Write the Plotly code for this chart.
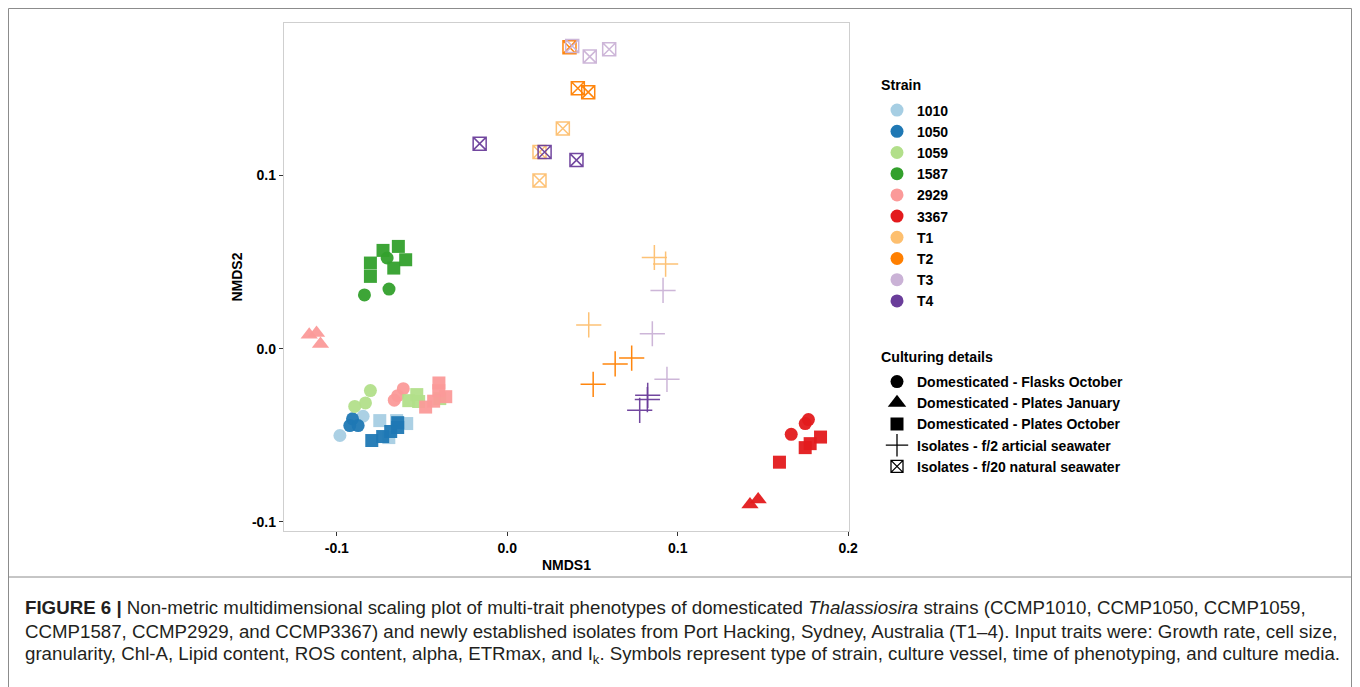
import plotly.graph_objects as go

# ---------------- data ----------------
strains = ["1010", "1050", "1059", "1587", "2929", "3367", "T1", "T2", "T3", "T4"]
strain_colors = ["#A6CEE3", "#1F78B4", "#B2DF8A", "#33A02C", "#FB9A99",
                 "#E31A1C", "#FDBF6F", "#FF7F00", "#CAB2D6", "#6A3D9A"]

cultures = ["Domesticated - Flasks October",
            "Domesticated - Plates January",
            "Domesticated - Plates October",
            "Isolates - f/2 articial seawater",
            "Isolates - f/20 natural seawater"]
culture_symbols = ["circle", "triangle-up", "square", "cross-thin-open", "square-x-open"]

# one entry per sample: strain, culture index, NMDS1, NMDS2
pt_strain = (["1010"] * 6 + ["1050"] * 8 + ["1059"] * 7 + ["1587"] * 9 +
             ["2929"] * 11 + ["3367"] * 9 + ["T1"] * 6 + ["T2"] * 6 +
             ["T3"] * 6 + ["T4"] * 6)
pt_culture = ([0, 0, 2, 2, 2, 2] +
              [0, 0, 0, 2, 2, 2, 2, 2] +
              [0, 0, 0, 2, 2, 2, 2] +
              [0, 0, 0, 2, 2, 2, 2, 2, 2] +
              [0, 0, 0, 1, 1, 1, 2, 2, 2, 2, 2] +
              [0, 0, 0, 1, 1, 2, 2, 2, 2] +
              [3, 3, 3, 4, 4, 4] +
              [3, 3, 3, 4, 4, 4] +
              [3, 3, 3, 4, 4, 4] +
              [3, 3, 3, 4, 4, 4])
nmds1 = ([-0.0982, -0.0846, -0.0748, -0.0649, -0.0590, -0.0695] +
         [-0.0908, -0.0924, -0.0875, -0.0795, -0.0731, -0.0684, -0.0643, -0.0643] +
         [-0.0803, -0.0832, -0.0895, -0.0578, -0.0531, -0.0520, -0.0396] +
         [-0.0705, -0.0838, -0.0694, -0.0803, -0.0803, -0.0729, -0.0639, -0.0666, -0.0596] +
         [-0.0610, -0.0643, -0.0663, -0.1162, -0.1119, -0.1096, -0.0401, -0.0402, -0.0361, -0.0432, -0.0479] +
         [0.1767, 0.1748, 0.1666, 0.1472, 0.1424, 0.1838, 0.1777, 0.1748, 0.1597] +
         [0.0863, 0.0929, 0.0478, 0.0326, 0.0189, 0.0189] +
         [0.0730, 0.0633, 0.0504, 0.0365, 0.0414, 0.0475] +
         [0.0914, 0.0851, 0.0937, 0.0381, 0.0484, 0.0598] +
         [0.0824, 0.0822, 0.0777, -0.0162, 0.0219, 0.0406])
nmds2 = ([-0.0501, -0.0390, -0.0415, -0.0415, -0.0432, -0.0513] +
         [-0.0405, -0.0444, -0.0444, -0.0530, -0.0507, -0.0478, -0.0455, -0.0427] +
         [-0.0242, -0.0313, -0.0333, -0.0300, -0.0265, -0.0305, -0.0288] +
         [0.0523, 0.0310, 0.0344, 0.0494, 0.0417, 0.0567, 0.0590, 0.0465, 0.0513] +
         [-0.0231, -0.0271, -0.0297, 0.0081, 0.0090, 0.0027, -0.0198, -0.0242, -0.0277, -0.0303, -0.0337] +
         [-0.0409, -0.0432, -0.0494, -0.0870, -0.0899, -0.0510, -0.0548, -0.0571, -0.0655] +
         [0.0526, 0.0488, 0.0137, 0.1270, 0.1135, 0.0970] +
         [-0.0054, -0.0088, -0.0206, 0.1739, 0.1503, 0.1480] +
         [0.0336, 0.0086, -0.0177, 0.1746, 0.1685, 0.1727] +
         [-0.0269, -0.0294, -0.0356, 0.1183, 0.1135, 0.1088])

x_ticks = [-0.1, 0.0, 0.1, 0.2]
x_tick_labels = ["-0.1", "0.0", "0.1", "0.2"]
y_ticks = [-0.1, 0.0, 0.1]
y_tick_labels = ["-0.1", "0.0", "0.1"]

legend_titles = ["Strain", "Culturing details"]

caption_lines = [
    "<b>FIGURE 6 |</b> Non-metric multidimensional scaling plot of multi-trait phenotypes of domesticated "
    "<i>Thalassiosira</i> strains (CCMP1010, CCMP1050, CCMP1059,",
    "CCMP1587, CCMP2929, and CCMP3367) and newly established isolates from Port Hacking, Sydney, "
    "Australia (T1–4). Input traits were: Growth rate, cell size,",
    "granularity, Chl-A, Lipid content, ROS content, alpha, ETRmax, and I<sub>k</sub>. Symbols represent "
    "type of strain, culture vessel, time of phenotyping, and culture media.",
]

# ---------------- figure ----------------
FONT = "Liberation Sans, Arial, sans-serif"
fig = go.Figure()

size_map = {"circle": 13, "triangle-up": 15, "square": 13,
            "cross-thin-open": 18, "square-x-open": 13}

for ci, cult in enumerate(cultures):
    sym = culture_symbols[ci]
    for si, st in enumerate(strains):
        xs = [nmds1[i] for i in range(len(nmds1)) if pt_strain[i] == st and pt_culture[i] == ci]
        ys = [nmds2[i] for i in range(len(nmds2)) if pt_strain[i] == st and pt_culture[i] == ci]
        if not xs:
            continue
        col = strain_colors[si]
        open_sym = sym.endswith("open")
        fig.add_trace(go.Scatter(
            x=xs, y=ys, mode="markers", showlegend=False, hoverinfo="skip",
            marker=dict(symbol=sym, size=size_map[sym], color=col,
                        opacity=0.95,
                        line=dict(color=col, width=1.5 if open_sym else 0)),
        ))

# legend 1: Strain (colours)
for si, st in enumerate(strains):
    fig.add_trace(go.Scatter(
        x=[None], y=[None], mode="markers", name=st, legend="legend",
        marker=dict(symbol="circle", size=13, color=strain_colors[si]),
    ))
# legend 2: Culturing details (shapes)
leg_sizes = {"circle": 13, "triangle-up": 16, "square": 13, "cross-thin-open": 19, "square-x-open": 12}
for ci, cult in enumerate(cultures):
    sym = culture_symbols[ci]
    fig.add_trace(go.Scatter(
        x=[None], y=[None], mode="markers", name=cult, legend="legend2",
        marker=dict(symbol=sym, size=leg_sizes[sym],
                    color="black", line=dict(color="black", width=1.3 if sym.endswith("open") else 0)),
    ))

# page offset (browser body margin) compensation
OFF = 8
W, H = 1360 - OFF, 687 - OFF
plot_l, plot_r, plot_t, plot_b = 284 - OFF, 849 - OFF, 23 - OFF, 531 - OFF
L, R, T, B = plot_l, W - plot_r, plot_t, H - plot_b
pw, ph = plot_r - plot_l, plot_b - plot_t


def px_x(p):
    return (p - OFF - plot_l) / pw


def px_y(p):
    return (plot_b - (p - OFF)) / ph


leg_font = dict(family=FONT, size=14, color="black", weight="bold")
fig.update_layout(
    width=W, height=H, autosize=False,
    margin=dict(l=L, r=R, t=T, b=B),
    paper_bgcolor="white", plot_bgcolor="white",
    font=dict(family=FONT, size=14, color="black"),
    xaxis=dict(range=[-0.131, 0.2005], tickvals=x_ticks, ticktext=x_tick_labels,
               showgrid=False, zeroline=False, showline=True, mirror=True,
               linecolor="#CFCFCF", linewidth=1.3,
               ticks="outside", ticklen=4, tickwidth=1.1, tickcolor="#333333",
               tickfont=dict(family=FONT, size=14, color="black", weight="bold"),
               title=dict(text="NMDS1", standoff=5,
                          font=dict(family=FONT, size=14, color="black", weight="bold"))),
    yaxis=dict(range=[-0.1052, 0.1879], tickvals=y_ticks, ticktext=y_tick_labels,
               showgrid=False, zeroline=False, showline=True, mirror=True,
               linecolor="#CFCFCF", linewidth=1.3,
               ticks="outside", ticklen=4, tickwidth=1.1, tickcolor="#333333",
               tickfont=dict(family=FONT, size=14, color="black", weight="bold"),
               title=dict(text="NMDS2", standoff=6,
                          font=dict(family=FONT, size=14, color="black", weight="bold"))),
    legend=dict(font=leg_font,
                x=px_x(877), y=px_y(94.5), xanchor="left", yanchor="top",
                bgcolor="rgba(0,0,0,0)", itemsizing="trace", tracegroupgap=0),
    legend2=dict(font=leg_font,
                 x=px_x(877), y=px_y(366), xanchor="left", yanchor="top",
                 bgcolor="rgba(0,0,0,0)", itemsizing="trace", tracegroupgap=0),
)

# legend titles
for title, ty in zip(legend_titles, [85, 357]):
    fig.add_annotation(text=title, xref="paper", yref="paper", x=px_x(879), y=px_y(ty),
                       xanchor="left", yanchor="middle", showarrow=False,
                       font=dict(family=FONT, size=14.2, color="black", weight="bold"))

# figure frame and caption box
frame_col = "#8C8C8C"
shapes = [
    dict(type="line", xref="paper", yref="paper", x0=px_x(8.5), x1=px_x(1351.5), y0=px_y(8.5), y1=px_y(8.5),
         line=dict(color=frame_col, width=1)),
    dict(type="line", xref="paper", yref="paper", x0=px_x(8.5), x1=px_x(8.5), y0=px_y(8.5), y1=px_y(700),
         line=dict(color=frame_col, width=1)),
    dict(type="line", xref="paper", yref="paper", x0=px_x(1351.5), x1=px_x(1351.5), y0=px_y(8.5), y1=px_y(700),
         line=dict(color=frame_col, width=1)),
    dict(type="line", xref="paper", yref="paper", x0=px_x(8.5), x1=px_x(1351.5), y0=px_y(577), y1=px_y(577),
         line=dict(color=frame_col, width=1)),
]
fig.update_layout(shapes=shapes)

cap_font = dict(family="Liberation Sans Narrow, Arial Narrow, Liberation Sans, sans-serif", size=18.7, color="#231F20")
for k, line in enumerate(caption_lines):
    fig.add_annotation(text=line, xref="paper", yref="paper", x=px_x(23), y=px_y(607 + 24 * k),
                       xanchor="left", yanchor="middle", showarrow=False, align="left", font=cap_font)

fig.write_html("out.html")
